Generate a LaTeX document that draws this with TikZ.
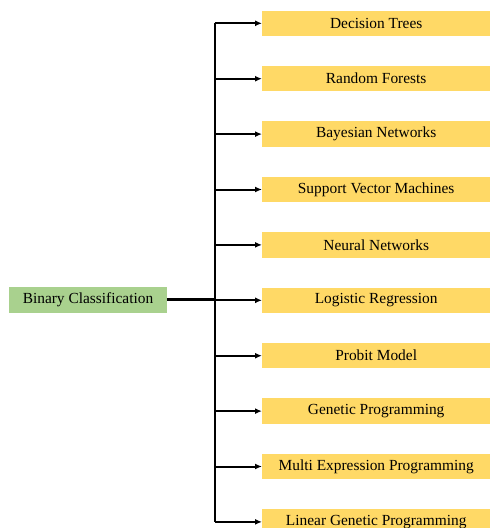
\documentclass[tikz,border=0pt]{standalone}
\usepackage{fontspec}
\setmainfont{Liberation Serif}
\usetikzlibrary{arrows.meta,positioning,calc}
\definecolor{boxyellow}{HTML}{FFD966}
\definecolor{boxgreen}{HTML}{A9D18E}

\begin{document}
\begin{tikzpicture}[x=1pt,y=-1pt,
  font=\fontsize{15.4}{18}\selectfont,
  method/.style={fill=boxyellow,minimum width=228pt,minimum height=25.5pt,inner sep=0pt,anchor=west},
  task/.style={fill=boxgreen,minimum width=157.5pt,minimum height=26pt,inner sep=0pt}]
\useasboundingbox (0,0) rectangle (490,528);
\node[task] (bc) at (88,299.5) {Binary Classification};
\coordinate (j) at (214.5,299.5);
\foreach \t [count=\i] in {Decision Trees,Random Forests,Bayesian Networks,Support Vector Machines,Neural Networks,Logistic Regression,Probit Model,Genetic Programming,Multi Expression Programming,Linear Genetic Programming}
{
  \node[method] (m\i) at (262,{23.3+(\i-1)*55.4}) {\t};
  \draw[-{Latex[length=7pt,width=6pt]},line width=2pt] (j |- m\i) -- (m\i.west);
}
\draw[line width=2pt] (j |- m1) -- (j |- m10);
\draw[line width=3pt] (bc.east) -- (j);
\end{tikzpicture}
\end{document}
